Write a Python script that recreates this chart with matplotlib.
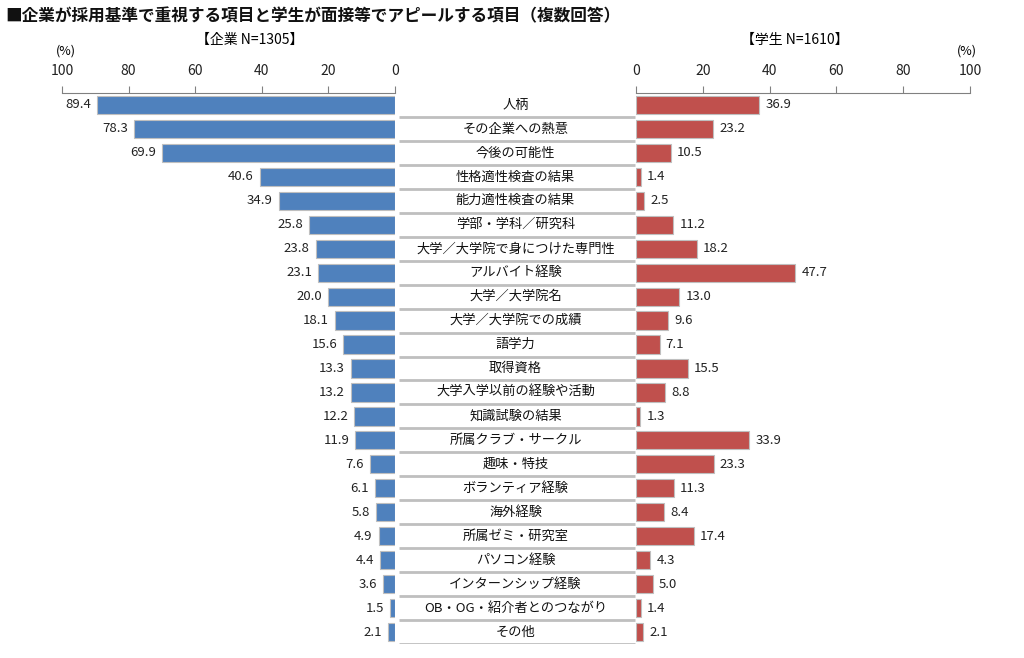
import numpy as np
import matplotlib.pyplot as plt

plt.rcParams['font.family'] = ['Noto Sans CJK JP', 'DejaVu Sans']

# data
items = ['人柄', 'その企業への熱意', '今後の可能性', '性格適性検査の結果', '能力適性検査の結果',
         '学部・学科／研究科', '大学／大学院で身につけた専門性', 'アルバイト経験', '大学／大学院名',
         '大学／大学院での成績', '語学力', '取得資格', '大学入学以前の経験や活動', '知識試験の結果',
         '所属クラブ・サークル', '趣味・特技', 'ボランティア経験', '海外経験', '所属ゼミ・研究室',
         'パソコン経験', 'インターンシップ経験', 'OB・OG・紹介者とのつながり', 'その他']
company = [89.4, 78.3, 69.9, 40.6, 34.9, 25.8, 23.8, 23.1, 20.0, 18.1, 15.6, 13.3,
           13.2, 12.2, 11.9, 7.6, 6.1, 5.8, 4.9, 4.4, 3.6, 1.5, 2.1]
student = [36.9, 23.2, 10.5, 1.4, 2.5, 11.2, 18.2, 47.7, 13.0, 9.6, 7.1, 15.5,
           8.8, 1.3, 33.9, 23.3, 11.3, 8.4, 17.4, 4.3, 5.0, 1.4, 2.1]
ticks = [0, 20, 40, 60, 80, 100]

W, H = 1024, 658
fig = plt.figure(figsize=(W / 100, H / 100), dpi=100)

def box(x0, x1, y0, y1):
    return [x0 / W, 1 - y1 / H, (x1 - x0) / W, (y1 - y0) / H]

n = len(items)
y = np.arange(n)

axl = fig.add_axes(box(62, 395, 93, 644))
axm = fig.add_axes(box(395, 636, 93, 644))
axr = fig.add_axes(box(636, 970, 93, 644))

blue = '#4F81BD'
red = '#C0504D'

for ax, vals, col in [(axl, company, blue), (axr, student, red)]:
    ax.barh(y, vals, height=0.76, color=col, edgecolor='#BFBFBF', linewidth=0.8)
    ax.set_xlim(0, 100)
    ax.set_ylim(n - 0.5, -0.5)
    ax.set_yticks([])
    ax.set_xticks(ticks)
    ax.xaxis.tick_top()
    ax.tick_params(axis='x', direction='out', length=5, width=0.8, color='#808080',
                   pad=6, labelsize=10, labelcolor='#222222')
    for s in ['left', 'right', 'bottom']:
        ax.spines[s].set_visible(False)
    ax.spines['top'].set_color('#808080')
    ax.spines['top'].set_linewidth(0.8)

axl.invert_xaxis()

for i, v in enumerate(company):
    axl.text(v + 1.8, i, f'{v:.1f}', ha='right', va='center', fontsize=9.5, color='#222222')
for i, v in enumerate(student):
    axr.text(v + 1.8, i, f'{v:.1f}', ha='left', va='center', fontsize=9.5, color='#222222')

# center labels with grey underline
axm.set_xlim(0, 1)
axm.set_ylim(n - 0.5, -0.5)
axm.axis('off')
for i, name in enumerate(items):
    axm.text(0.5, i, name, ha='center', va='center', fontsize=9.5, color='#111111')
    axm.plot([0.015, 0.995], [i + 0.5, i + 0.5], color='#BFBFBF', lw=2, solid_capstyle='butt')

fig.text(5 / W, 1 - 16 / H, '■企業が採用基準で重視する項目と学生が面接等でアピールする項目（複数回答）',
         ha='left', va='center', fontsize=12, fontweight='bold', color='#111111')
fig.text(250 / W, 1 - 40 / H, '【企業 N=1305】', ha='center', va='center', fontsize=10)
fig.text(795 / W, 1 - 40 / H, '【学生 N=1610】', ha='center', va='center', fontsize=10)
fig.text(66 / W, 1 - 51 / H, '(%)', ha='center', va='center', fontsize=9)
fig.text(967 / W, 1 - 51 / H, '(%)', ha='center', va='center', fontsize=9)

fig.savefig('out.png', dpi=100)
